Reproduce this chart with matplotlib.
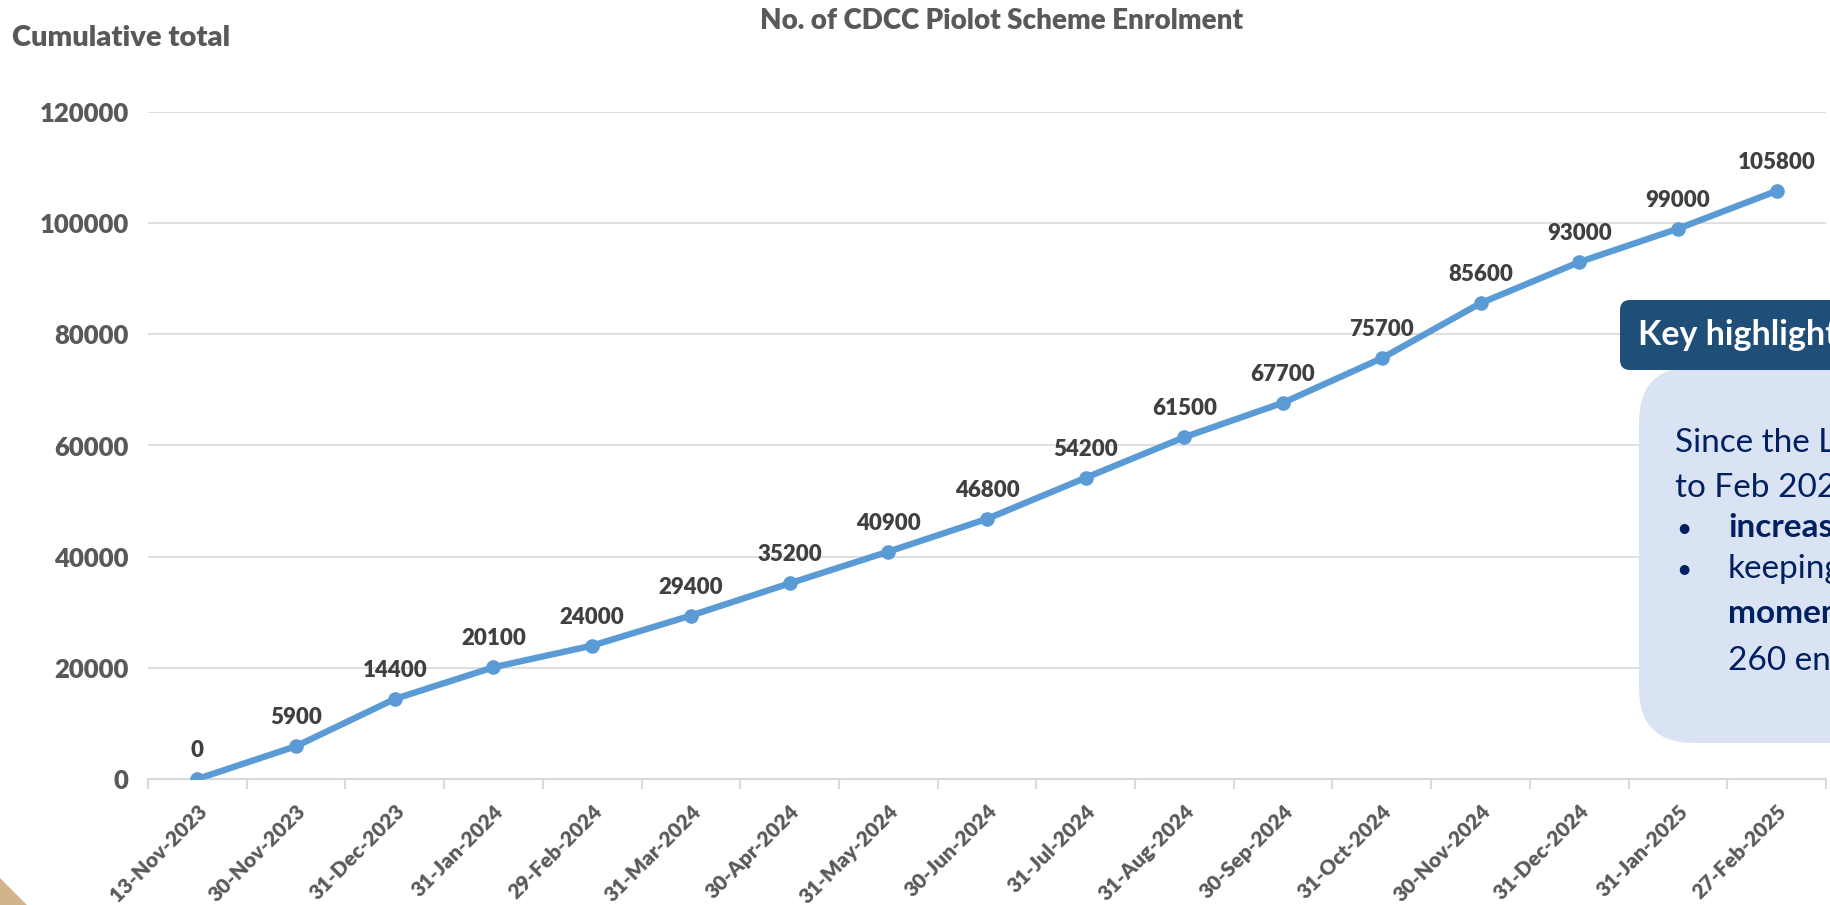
#!/usr/bin/env python3
# CDCC Pilot Scheme enrolment - cumulative line chart
import matplotlib
matplotlib.use("Agg")
import matplotlib.pyplot as plt
from matplotlib.patches import FancyBboxPatch, Polygon

# === Data ===
dates = ["13-Nov-2023", "30-Nov-2023", "31-Dec-2023", "31-Jan-2024", "29-Feb-2024",
         "31-Mar-2024", "30-Apr-2024", "31-May-2024", "30-Jun-2024", "31-Jul-2024",
         "31-Aug-2024", "30-Sep-2024", "31-Oct-2024", "30-Nov-2024", "31-Dec-2024",
         "31-Jan-2025", "27-Feb-2025"]
enrolment = [0, 5900, 14400, 20100, 24000, 29400, 35200, 40900, 46800, 54200,
             61500, 67700, 75700, 85600, 93000, 99000, 105800]
y_ticks = [0, 20000, 40000, 60000, 80000, 100000, 120000]

# visible (cut-off) text of the highlight panel
box_lines = [("Since the L", False, False), ("to Feb 2025", False, False),
             ("increas", True, True), ("keeping", False, True),
             ("momen", True, False), ("260 en", False, False)]

plt.rcParams["font.family"] = ["Lato", "DejaVu Sans"]
GREY = "#595959"
DARK = "#404040"
BLUE = "#5B9BD5"
GRID = "#D9D9D9"
NAVY = "#002060"
HEAVY = "heavy"

W, H = 1831, 905
fig = plt.figure(figsize=(W / 100, H / 100), dpi=100)
ax = fig.add_axes([148 / W, 1 - 779 / H, (1826 - 148) / W, (779 - 112) / H])

x = list(range(len(dates)))
ax.plot(x, enrolment, color=BLUE, lw=4.6, marker="o", ms=9.5, zorder=3,
        solid_capstyle="round")
for xi, v in zip(x, enrolment):
    ax.annotate(str(v), (xi, v), xytext=(0, 22), textcoords="offset pixels",
                ha="center", va="baseline", fontsize=16, fontweight=HEAVY,
                color=DARK)

ax.set_xlim(-0.5, len(dates) - 0.5)
ax.set_ylim(0, 120000)
ax.set_yticks(y_ticks)
ax.set_yticklabels([str(t) for t in y_ticks])
ax.yaxis.grid(True, color=GRID, lw=1.2)
ax.set_axisbelow(True)
for s in ["left", "right", "top"]:
    ax.spines[s].set_visible(False)
ax.spines["bottom"].set_color(GRID)
ax.spines["bottom"].set_linewidth(1.5)

ax.set_xticks(x)
ax.set_xticklabels(dates, rotation=45, ha="right", va="top",
                   rotation_mode="anchor")
ax.set_xticks([i - 0.5 for i in range(len(dates) + 1)], minor=True)
ax.tick_params(axis="x", which="major", length=0, pad=16, labelsize=15,
               labelcolor=GREY)
ax.tick_params(axis="x", which="minor", length=7, color=GRID, width=1.5)
ax.tick_params(axis="y", length=0, pad=14, labelsize=18.5, labelcolor=GREY)
for lab in ax.get_xticklabels() + ax.get_yticklabels():
    lab.set_fontweight(HEAVY)

fig.text(1002 / W, 1 - 21 / H, "No. of CDCC Piolot Scheme Enrolment",
         ha="center", va="center", fontsize=20, fontweight=HEAVY, color=GREY)
fig.text(12 / W, 1 - 38 / H, "Cumulative total", ha="left", va="center",
         fontsize=21, fontweight=HEAVY, color=GREY)

# === Key highlights panel (in inches, so corners stay round) ===
inch = fig.dpi_scale_trans
light = FancyBboxPatch((16.39, 9.05 - 7.43), 3.5, 7.43 - 3.67,
                       boxstyle="round,pad=0,rounding_size=0.55",
                       fc="#DAE3F3", ec="none", transform=inch, zorder=2)
dark = FancyBboxPatch((16.20, 9.05 - 3.70), 3.5, 0.70,
                      boxstyle="round,pad=0,rounding_size=0.1",
                      fc="#1F4E79", ec="none", transform=inch, zorder=3)
fig.add_artist(light)
fig.add_artist(dark)
fig.text(16.38, 9.05 - 3.35, "Key highlights", transform=inch, ha="left",
         va="center", fontsize=24.5, fontweight="bold", color="white", zorder=4)

y_base = [452, 497, 537, 578, 623, 670]
for (txt, bold, bullet), yb in zip(box_lines, y_base):
    indent = 17.28 if (bullet or txt in ("momen", "260 en")) else 16.75
    if bullet:
        fig.text(16.76, 9.05 - yb / 100, "\u2022", transform=inch, ha="left",
                 va="baseline", fontsize=19, color=NAVY, zorder=4)
    fig.text(indent, 9.05 - yb / 100, txt, transform=inch, ha="left",
             va="baseline", fontsize=24, color=NAVY,
             fontweight="bold" if bold else "normal", zorder=4)

# tan corner decoration
fig.add_artist(Polygon([(0, 0), (0, 0.27), (0.27, 0)], closed=True,
                       fc="#D2B48C", ec="none", transform=inch, zorder=2))

fig.savefig("out.png", dpi=100)
plt.close(fig)
